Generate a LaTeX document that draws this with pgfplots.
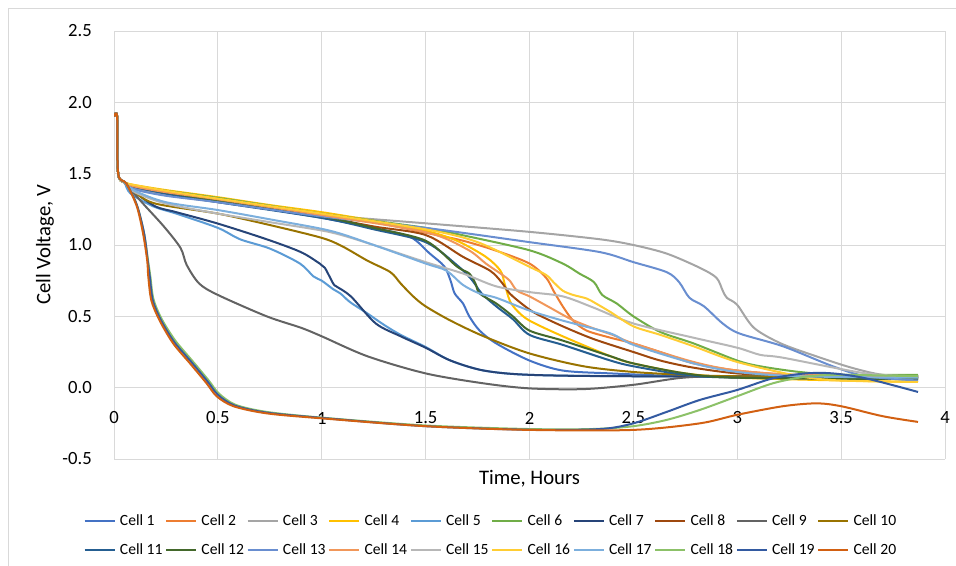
\documentclass[border=0pt]{standalone}
\usepackage{fontspec}
\setmainfont{Carlito}
\usepackage{pgfplots}
\pgfplotsset{compat=1.18}
\definecolor{gridc}{HTML}{D9D9D9}
\definecolor{c1}{HTML}{4472C4}
\definecolor{c2}{HTML}{ED7D31}
\definecolor{c3}{HTML}{A5A5A5}
\definecolor{c4}{HTML}{FFC000}
\definecolor{c5}{HTML}{5B9BD5}
\definecolor{c6}{HTML}{70AD47}
\definecolor{c7}{HTML}{264478}
\definecolor{c8}{HTML}{9E480E}
\definecolor{c9}{HTML}{636363}
\definecolor{c10}{HTML}{997300}
\definecolor{c11}{HTML}{255E91}
\definecolor{c12}{HTML}{43682B}
\definecolor{c13}{HTML}{698ED0}
\definecolor{c14}{HTML}{F1975A}
\definecolor{c15}{HTML}{B7B7B7}
\definecolor{c16}{HTML}{FFCD33}
\definecolor{c17}{HTML}{7CAFDD}
\definecolor{c18}{HTML}{8CC168}
\definecolor{c19}{HTML}{335AA1}
\definecolor{c20}{HTML}{D26012}
\begin{document}
\begin{tikzpicture}
\useasboundingbox (0,0) rectangle (717pt,423.75pt);
\draw[color=gridc, line width=0.75pt] (6pt,-5pt) rectangle (725pt,417pt);
\begin{axis}[
 at={(85.5pt,79.5pt)}, anchor=south west,
 scale only axis, width=623.25pt, height=321pt,
 xmin=0, xmax=4, ymin=-0.5, ymax=2.5,
 xtick={0,0.5,1,1.5,2,2.5,3,3.5,4},
 xticklabels={0,0.5,1,1.5,2,2.5,3,3.5,4},
 ytick={-0.5,0,0.5,1,1.5,2,2.5},
 yticklabels={-0.5,0.0,0.5,1.0,1.5,2.0,2.5},
 grid=major, major grid style={color=gridc, line width=0.75pt},
 axis line style={draw=none}, major tick length=0pt,
 y tick label style={anchor=east, inner sep=0pt, xshift=-16.5pt, font=\fontsize{14}{16}\selectfont},
 x tick label style={anchor=center, inner sep=0pt, yshift=30.75pt, font=\fontsize{14}{16}\selectfont},
 xlabel={Time, Hours}, ylabel={Cell Voltage, V},
 every axis x label/.style={at={(axis description cs:0.5,-0.045)}, anchor=center, font=\fontsize{15.5}{18}\selectfont},
 every axis y label/.style={at={(axis description cs:-0.083,0.5)}, rotate=90, anchor=center, font=\fontsize{15.5}{18}\selectfont},
 legend columns=10, legend cell align=left,
 legend style={at={(0.454,-0.179)}, anchor=center, draw=none, fill=none,
   font=\fontsize{11.7}{14}\selectfont, row sep=8pt,
   /tikz/every odd column/.append style={column sep=1.2pt},
   /tikz/every even column/.append style={column sep=0pt}},
 legend image code/.code={\draw[#1] (0pt,0pt) -- (22.5pt,0pt);},
 every axis plot/.append style={line width=1.5pt, line join=round, smooth, tension=0.5},
 no markers,
]
\addplot[c1] coordinates {(0,1.9)(0.015,1.9)(0.02,1.5)(0.05,1.44)(0.1,1.4)(0.25,1.36)(0.5,1.31)(0.75,1.25)(1.0,1.19)(1.25,1.12)(1.425,1.057)(1.52,0.94)(1.59,0.85)(1.62,0.75)(1.64,0.66)(1.68,0.59)(1.71,0.5)(1.76,0.40)(1.84,0.31)(2.0,0.19)(2.16,0.12)(2.39,0.10)(2.75,0.08)(3.25,0.07)(3.87,0.07)};
\addlegendentry{Cell 1}
\addplot[c2] coordinates {(0,1.9)(0.015,1.9)(0.02,1.5)(0.05,1.44)(0.1,1.41)(0.25,1.37)(0.5,1.32)(0.75,1.27)(1.0,1.21)(1.25,1.16)(1.52,1.08)(1.68,1.03)(1.84,0.96)(2.0,0.87)(2.08,0.77)(2.115,0.68)(2.16,0.57)(2.21,0.47)(2.275,0.40)(2.39,0.35)(2.5,0.31)(2.65,0.24)(2.79,0.17)(3.0,0.12)(3.25,0.09)(3.5,0.08)(3.87,0.07)};
\addlegendentry{Cell 2}
\addplot[c3] coordinates {(0,1.9)(0.015,1.9)(0.02,1.5)(0.05,1.44)(0.1,1.39)(0.25,1.35)(0.5,1.3)(0.79,1.243)(1.0,1.21)(1.5,1.152)(2.0,1.092)(2.34,1.04)(2.5,1.0)(2.66,0.94)(2.82,0.84)(2.9,0.77)(2.93,0.68)(2.95,0.63)(3.0,0.58)(3.08,0.42)(3.21,0.31)(3.38,0.22)(3.55,0.14)(3.7,0.09)(3.87,0.08)};
\addlegendentry{Cell 3}
\addplot[c4] coordinates {(0,1.9)(0.015,1.9)(0.02,1.5)(0.05,1.44)(0.1,1.42)(0.25,1.385)(0.5,1.335)(0.75,1.28)(1.0,1.23)(1.25,1.17)(1.5,1.1)(1.65,1.03)(1.79,0.917)(1.86,0.82)(1.88,0.73)(1.905,0.61)(1.94,0.54)(2.0,0.47)(2.16,0.36)(2.39,0.22)(2.5,0.17)(2.75,0.1)(3.0,0.07)(3.5,0.05)(3.87,0.04)};
\addlegendentry{Cell 4}
\addplot[c5] coordinates {(0,1.9)(0.015,1.9)(0.02,1.5)(0.05,1.44)(0.08,1.36)(0.19,1.27)(0.3,1.22)(0.5,1.12)(0.607,1.04)(0.75,0.975)(0.895,0.87)(0.96,0.78)(1.0,0.75)(1.055,0.69)(1.09,0.66)(1.136,0.6)(1.22,0.52)(1.3,0.44)(1.38,0.37)(1.5,0.285)(1.62,0.19)(1.78,0.12)(2.0,0.09)(2.5,0.08)(3.87,0.07)};
\addlegendentry{Cell 5}
\addplot[c6] coordinates {(0,1.9)(0.015,1.9)(0.02,1.5)(0.05,1.44)(0.1,1.415)(0.25,1.38)(0.5,1.33)(0.75,1.275)(1.0,1.22)(1.25,1.17)(1.5,1.12)(1.68,1.068)(2.0,0.963)(2.16,0.87)(2.24,0.80)(2.31,0.74)(2.35,0.65)(2.42,0.59)(2.5,0.50)(2.63,0.39)(2.79,0.31)(3.0,0.19)(3.11,0.15)(3.3,0.11)(3.5,0.09)(3.87,0.09)};
\addlegendentry{Cell 6}
\addplot[c7] coordinates {(0,1.9)(0.015,1.9)(0.02,1.5)(0.05,1.44)(0.1,1.37)(0.2,1.27)(0.3,1.23)(0.5,1.15)(0.735,1.04)(0.9,0.95)(0.99,0.87)(1.015,0.84)(1.055,0.73)(1.07,0.71)(1.14,0.64)(1.26,0.45)(1.38,0.36)(1.5,0.28)(1.62,0.19)(1.78,0.12)(2.0,0.09)(2.5,0.08)(3.87,0.08)};
\addlegendentry{Cell 7}
\addplot[c8] coordinates {(0,1.9)(0.015,1.9)(0.02,1.5)(0.05,1.44)(0.1,1.41)(0.25,1.37)(0.5,1.32)(0.75,1.26)(1.0,1.2)(1.25,1.13)(1.5,1.07)(1.68,0.917)(1.81,0.82)(1.865,0.74)(1.905,0.66)(1.97,0.58)(2.03,0.52)(2.16,0.43)(2.31,0.34)(2.5,0.25)(2.63,0.19)(2.79,0.14)(3.0,0.1)(3.3,0.08)(3.87,0.07)};
\addlegendentry{Cell 8}
\addplot[c9] coordinates {(0,1.9)(0.015,1.9)(0.02,1.5)(0.05,1.44)(0.14,1.29)(0.24,1.13)(0.32,0.98)(0.35,0.86)(0.41,0.73)(0.5,0.65)(0.735,0.5)(0.9,0.42)(1.0,0.36)(1.22,0.22)(1.5,0.10)(1.78,0.03)(2.0,-0.005)(2.26,-0.01)(2.5,0.02)(2.74,0.07)(3.0,0.08)(3.87,0.08)};
\addlegendentry{Cell 9}
\addplot[c10] coordinates {(0,1.9)(0.015,1.9)(0.02,1.5)(0.05,1.44)(0.1,1.37)(0.2,1.29)(0.5,1.22)(0.75,1.14)(1.0,1.05)(1.1,0.99)(1.22,0.89)(1.33,0.81)(1.38,0.73)(1.44,0.64)(1.5,0.57)(1.62,0.47)(1.78,0.36)(2.0,0.24)(2.26,0.15)(2.5,0.11)(2.75,0.09)(3.0,0.08)(3.87,0.07)};
\addlegendentry{Cell 10}
\addplot[c11] coordinates {(0,1.9)(0.015,1.9)(0.02,1.5)(0.05,1.44)(0.1,1.41)(0.25,1.36)(0.5,1.3)(1.0,1.19)(1.25,1.11)(1.5,1.02)(1.65,0.86)(1.72,0.76)(1.77,0.66)(1.84,0.57)(1.92,0.48)(2.0,0.37)(2.16,0.3)(2.39,0.19)(2.5,0.15)(2.75,0.09)(3.0,0.07)(3.87,0.06)};
\addlegendentry{Cell 11}
\addplot[c12] coordinates {(0,1.9)(0.015,1.9)(0.02,1.5)(0.05,1.44)(0.1,1.41)(0.25,1.37)(0.5,1.31)(1.0,1.2)(1.25,1.12)(1.5,1.03)(1.65,0.85)(1.71,0.80)(1.74,0.73)(1.76,0.66)(1.84,0.59)(1.92,0.5)(2.0,0.40)(2.16,0.33)(2.39,0.22)(2.5,0.17)(2.75,0.1)(3.0,0.07)(3.87,0.06)};
\addlegendentry{Cell 12}
\addplot[c13] coordinates {(0,1.9)(0.015,1.9)(0.02,1.5)(0.05,1.44)(0.1,1.39)(0.25,1.345)(0.5,1.3)(1.0,1.2)(1.5,1.12)(2.0,1.02)(2.34,0.95)(2.5,0.88)(2.66,0.81)(2.72,0.74)(2.77,0.63)(2.84,0.57)(2.93,0.45)(3.01,0.38)(3.22,0.29)(3.46,0.15)(3.62,0.08)(3.87,0.05)};
\addlegendentry{Cell 13}
\addplot[c14] coordinates {(0,1.9)(0.015,1.9)(0.02,1.5)(0.05,1.44)(0.1,1.41)(0.25,1.37)(0.5,1.32)(1.0,1.21)(1.5,1.09)(1.7,0.97)(1.79,0.87)(1.87,0.79)(1.905,0.75)(1.94,0.68)(2.0,0.64)(2.1,0.56)(2.2,0.48)(2.3,0.42)(2.4,0.37)(2.5,0.31)(2.79,0.18)(3.0,0.12)(3.3,0.09)(3.87,0.08)};
\addlegendentry{Cell 14}
\addplot[c15] coordinates {(0,1.9)(0.015,1.9)(0.02,1.5)(0.05,1.44)(0.1,1.37)(0.25,1.29)(0.5,1.22)(0.75,1.16)(1.04,1.09)(1.25,1.0)(1.5,0.88)(1.68,0.80)(1.84,0.71)(2.0,0.67)(2.16,0.64)(2.31,0.56)(2.5,0.45)(2.79,0.35)(3.0,0.28)(3.11,0.23)(3.22,0.21)(3.62,0.10)(3.87,0.08)};
\addlegendentry{Cell 15}
\addplot[c16] coordinates {(0,1.9)(0.015,1.9)(0.02,1.5)(0.05,1.44)(0.1,1.42)(0.25,1.38)(0.5,1.325)(1.0,1.22)(1.5,1.11)(1.75,1.02)(2.0,0.847)(2.08,0.79)(2.115,0.74)(2.16,0.68)(2.21,0.65)(2.275,0.625)(2.32,0.59)(2.39,0.53)(2.5,0.43)(2.63,0.37)(2.79,0.29)(3.0,0.18)(3.3,0.08)(3.5,0.05)(3.87,0.04)};
\addlegendentry{Cell 16}
\addplot[c17] coordinates {(0,1.9)(0.015,1.9)(0.02,1.5)(0.05,1.44)(0.1,1.38)(0.25,1.3)(0.5,1.245)(0.75,1.18)(1.04,1.1)(1.25,1.0)(1.5,0.87)(1.6,0.82)(1.68,0.72)(1.76,0.66)(1.84,0.63)(2.0,0.54)(2.16,0.47)(2.39,0.38)(2.5,0.3)(2.79,0.17)(3.0,0.11)(3.3,0.08)(3.87,0.07)};
\addlegendentry{Cell 17}
\addplot[c18] coordinates {(0,1.9)(0.015,1.9)(0.02,1.5)(0.06,1.43)(0.11,1.28)(0.145,1.08)(0.165,0.88)(0.175,0.78)(0.19,0.62)(0.23,0.48)(0.295,0.33)(0.376,0.19)(0.456,0.05)(0.504,-0.04)(0.585,-0.12)(0.735,-0.17)(1.0,-0.21)(1.5,-0.265)(2.0,-0.29)(2.3,-0.29)(2.5,-0.27)(2.66,-0.226)(2.82,-0.156)(3.0,-0.06)(3.17,0.03)(3.33,0.077)(3.5,0.09)(3.87,0.08)};
\addlegendentry{Cell 18}
\addplot[c19] coordinates {(0,1.9)(0.015,1.9)(0.02,1.5)(0.06,1.43)(0.11,1.28)(0.145,1.08)(0.163,0.88)(0.172,0.78)(0.187,0.61)(0.227,0.47)(0.29,0.32)(0.372,0.18)(0.452,0.04)(0.5,-0.05)(0.58,-0.125)(0.735,-0.175)(1.0,-0.212)(1.5,-0.27)(2.0,-0.295)(2.34,-0.29)(2.5,-0.25)(2.66,-0.17)(2.82,-0.086)(3.0,-0.016)(3.17,0.065)(3.33,0.10)(3.46,0.10)(3.62,0.065)(3.87,-0.03)};
\addlegendentry{Cell 19}
\addplot[c20] coordinates {(0,1.9)(0.015,1.9)(0.02,1.5)(0.06,1.43)(0.11,1.27)(0.14,1.08)(0.16,0.89)(0.165,0.78)(0.18,0.61)(0.22,0.47)(0.285,0.31)(0.366,0.17)(0.446,0.03)(0.494,-0.06)(0.575,-0.13)(0.735,-0.18)(1.0,-0.215)(1.5,-0.27)(2.0,-0.296)(2.5,-0.296)(2.82,-0.25)(3.0,-0.19)(3.22,-0.13)(3.38,-0.11)(3.5,-0.13)(3.7,-0.2)(3.87,-0.24)};
\addlegendentry{Cell 20}
\end{axis}
\end{tikzpicture}
\end{document}
